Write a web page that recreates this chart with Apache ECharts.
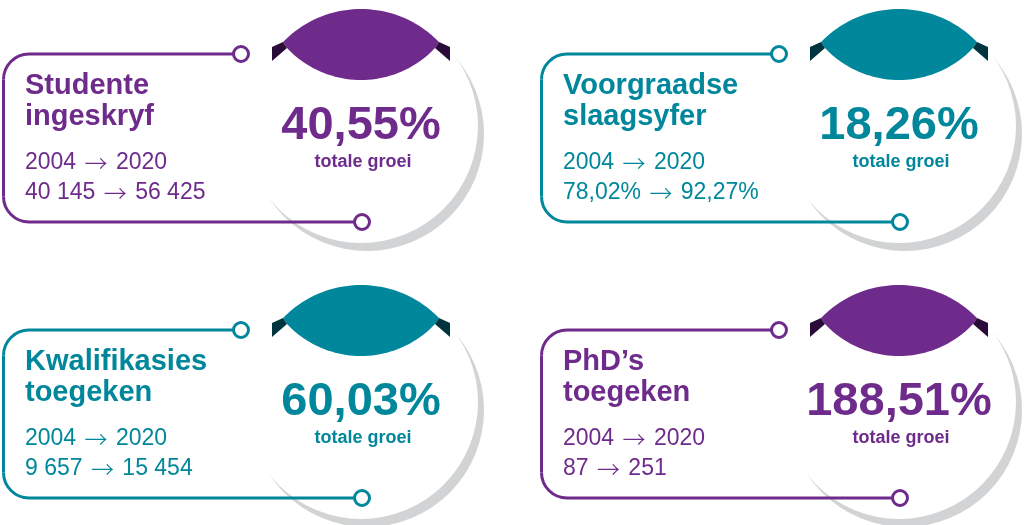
<!DOCTYPE html>
<html>
<head>
<meta charset="utf-8">
<script src="https://cdn.jsdelivr.net/npm/echarts@6/dist/echarts.min.js"></script>
<style>
  html, body { margin: 0; padding: 0; background: #fff; }
  #main { width: 1029px; height: 525px; }
</style>
</head>
<body>
<div id="main"></div>
<script>
// data
var titles = [['Studente', 'ingeskryf'], ['Voorgraadse', 'slaagsyfer'], ['Kwalifikasies', 'toegeken'], ['PhD’s', 'toegeken']];
var startYears = ['2004', '2004', '2004', '2004'];
var endYears = ['2020', '2020', '2020', '2020'];
var startValues = ['40 145', '78,02%', '9 657', '87'];
var endValues = ['56 425', '92,27%', '15 454', '251'];
var growth = ['40,55%', '18,26%', '60,03%', '188,51%'];
var growthLabel = 'totale groei';

// looks
var PURPLE = '#6e2b8b', TEAL = '#00879b';
var colors = [PURPLE, TEAL, TEAL, PURPLE];
var darks = { '#6e2b8b': '#2b0b37', '#00879b': '#00343f' };
var origins = [[0, 0], [538, 0], [0, 276], [538, 276]];
var FONT = '"Liberation Sans", Arial, sans-serif';
var ARROW_FONT = '"Noto Sans CJK SC", "DejaVu Sans", sans-serif';

var chart = echarts.init(document.getElementById('main'), null, { renderer: 'canvas' });

// points on a circle arc, sampled by x (upper or lower half)
function arcByX(cx, cy, r, x0, x1, upper) {
  var pts = [], n = 40;
  for (var k = 0; k <= n; k++) {
    var x = x0 + (x1 - x0) * k / n;
    var h = Math.sqrt(Math.max(0, r * r - (x - cx) * (x - cx)));
    pts.push([x, upper ? cy - h : cy + h]);
  }
  return pts;
}

function panel(i) {
  var ox = origins[i][0], oy = origins[i][1];
  var c = colors[i], d = darks[c];
  var cx = 361, cy = 126, r = 117;
  var els = [];
  // shadow + white disc
  els.push({ type: 'circle', shape: { cx: ox + cx + 6, cy: oy + cy + 8, r: r }, style: { fill: '#d1d3d4' } });
  els.push({ type: 'circle', shape: { cx: ox + cx, cy: oy + cy, r: r }, style: { fill: '#fff' } });
  // ribbon (lens between two arcs) with dark folds
  var top = arcByX(361, 117.7, 108.7, 283, 439, true);
  var bot = arcByX(361, -21.6, 101.6, 435, 287, false);
  els.push({ type: 'polygon', x: ox, y: oy, shape: { points: top.concat(bot) }, style: { fill: c } });
  els.push({ type: 'polygon', x: ox, y: oy, shape: { points: [[272, 47], [283, 42], [287, 48], [272, 61]] }, style: { fill: d } });
  els.push({ type: 'polygon', x: ox, y: oy, shape: { points: [[450, 47], [439, 42], [435, 48], [450, 61]] }, style: { fill: d } });
  // frame: top line, rounded corners, left line, bottom line
  var ls = { stroke: c, lineWidth: 3, fill: null };
  els.push({ type: 'line', x: ox, y: oy, shape: { x1: 241, y1: 54, x2: 29, y2: 54 }, style: ls });
  els.push({ type: 'line', x: ox, y: oy, shape: { x1: 3.5, y1: 79.5, x2: 3.5, y2: 196.5 }, style: ls });
  els.push({ type: 'line', x: ox, y: oy, shape: { x1: 29, y1: 222, x2: 362, y2: 222 }, style: ls });
  els.push({ type: 'arc', x: ox, y: oy, shape: { cx: 29, cy: 79.5, r: 25.5, startAngle: Math.PI, endAngle: Math.PI * 1.5, clockwise: true }, style: ls });
  els.push({ type: 'arc', x: ox, y: oy, shape: { cx: 29, cy: 196.5, r: 25.5, startAngle: Math.PI * 0.5, endAngle: Math.PI, clockwise: true }, style: ls });
  els.push({ type: 'circle', shape: { cx: ox + 241, cy: oy + 54, r: 7.5 }, style: { fill: '#fff', stroke: c, lineWidth: 3 } });
  els.push({ type: 'circle', shape: { cx: ox + 362, cy: oy + 222, r: 7.5 }, style: { fill: '#fff', stroke: c, lineWidth: 3 } });
  // texts (y is the em middle; baseline sits ~0.35em below)
  function txt(x, baseline, s, size, weight, align, rich) {
    els.push({
      type: 'text', x: ox + x, y: oy + baseline - size * 0.35,
      style: {
        text: s, fill: c, font: weight + ' ' + size + 'px ' + FONT,
        textAlign: align || 'left', textVerticalAlign: 'middle', rich: rich
      }
    });
  }
  var rich = {
    n: { fontFamily: FONT, fontSize: 23, fontWeight: 'normal', color: c },
    a: { fontFamily: ARROW_FONT, fontSize: 23, fontWeight: 300, color: c, padding: [0, 2, 0, 2] }
  };
  txt(25, 96, titles[i][0], 29, 'bold');
  txt(25, 127, titles[i][1], 29, 'bold');
  txt(25, 171, '{n|' + startYears[i] + ' }{a|→}{n| ' + endYears[i] + '}', 23, 'normal', 'left', rich);
  txt(25, 201, '{n|' + startValues[i] + ' }{a|→}{n| ' + endValues[i] + '}', 23, 'normal', 'left', rich);
  txt(361, 142, growth[i], 47, 'bold', 'center');
  txt(363, 168, growthLabel, 18, 'bold', 'center');
  return els;
}

var graphics = [];
for (var i = 0; i < 4; i++) graphics = graphics.concat(panel(i));

chart.setOption({
  animation: false,
  backgroundColor: '#fff',
  graphic: { elements: graphics }
});
</script>
</body>
</html>
